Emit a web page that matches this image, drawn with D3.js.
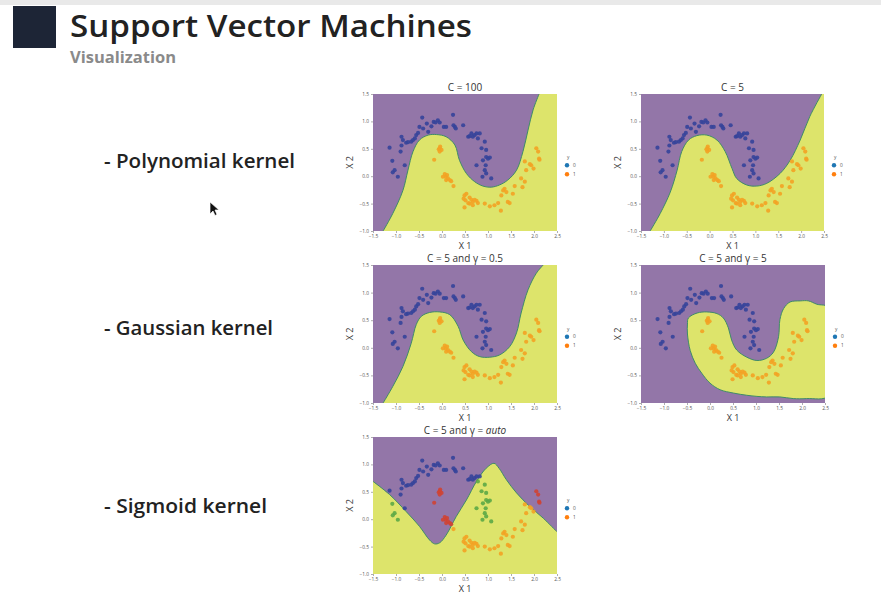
<!DOCTYPE html>
<html>
<head>
<meta charset="utf-8">
<script src="https://cdn.jsdelivr.net/npm/d3@7"></script>
<style>
  body { margin: 0; background: #fff; }
  text { font-family: "Open Sans", "Noto Sans", sans-serif; }
</style>
</head>
<body>
<div id="chart"></div>
<script>
// tick values shared by every panel
const xTicks = [-1.5, -1.0, -0.5, 0.0, 0.5, 1.0, 1.5, 2.0, 2.5];
const yTicks = [-1.0, -0.5, 0.0, 0.5, 1.0, 1.5];

// moons data, class 0 (blue)
const blueX = [-1.14, -1.08, -1.03, -1.07, -0.96, -0.88, -0.90, -0.85, -0.88, -0.81, -0.78, -0.74, -0.67, -0.63,
  -0.59, -0.56, -0.52, -0.49, -0.43, -0.41, -0.33, -0.30, -0.23, -0.18, -0.14, -0.09, -0.05, 0.04, 0.09, 0.24,
  0.25, 0.28, 0.30, 0.46, 0.57, 0.60, 0.64, 0.67, 0.71, 0.75, 0.78, 0.82, 0.86, 0.93, 0.96, 0.96, 0.95, 1.00,
  1.04, 0.89, 0.93, 0.96, 0.88, 1.07, 0.75];
const blueY = [0.52, 0.28, 0.11, 0.07, -0.01, 0.56, 0.45, 0.66, 0.72, 0.20, 0.61, 0.62, 0.63, 0.66,
  0.69, 0.75, 0.79, 0.90, 1.07, 0.87, 0.96, 0.81, 0.91, 0.99, 0.98, 1.02, 0.98, 0.90, 0.90, 1.12,
  0.93, 0.90, 0.87, 0.93, 0.72, 0.73, 0.78, 0.72, 0.75, 0.78, 0.69, 0.78, 0.51, 0.63, 0.48, 0.35, 0.20, 0.32,
  0.34, 0.29, 0.11, 0.05, -0.01, -0.04, 0.20];

// moons data, class 1 (orange)
const orangeX = [-0.05, -0.01, -0.05, -0.04, -0.07, -0.17, 0.06, 0.08, 0.11, 0.13, 0.09, 0.02, 0.17, 0.20,
  0.25, 0.49, 0.53, 0.47, 0.51, 0.60, 0.64, 0.67, 0.71, 0.75, 0.60, 0.57, 0.49, 0.67, 0.78, 0.93, 1.04,
  1.14, 1.28, 1.22, 1.33, 1.36, 1.29, 1.40, 1.43, 1.47, 1.54, 1.58, 1.72, 1.75, 1.80, 1.83, 1.91, 1.94,
  1.99, 2.05, 2.09, 2.11, 2.12, 1.80];
const orangeY = [0.51, 0.48, 0.45, 0.54, 0.49, 0.30, 0.04, -0.01, 0.02, -0.04, -0.07, -0.01, -0.07, -0.09,
  -0.18, -0.35, -0.32, -0.41, -0.44, -0.39, -0.43, -0.47, -0.43, -0.45, -0.50, -0.49, -0.57, -0.53, -0.49, -0.50, -0.55,
  -0.53, -0.63, -0.49, -0.26, -0.23, -0.35, -0.29, -0.47, -0.49, -0.32, -0.18, -0.04, -0.20, -0.10, 0.11, 0.22, 0.20,
  0.14, 0.51, 0.45, 0.32, 0.30, 0.27];

// decision boundaries (x1, x2)
const polyC100 = [[-1.28, -1.0], [-1.07, -0.68], [-0.85, -0.26], [-0.74, 0.11], [-0.63, 0.45], [-0.49, 0.66],
  [-0.30, 0.75], [-0.12, 0.76], [0.09, 0.72], [0.28, 0.57], [0.38, 0.29], [0.53, 0.05], [0.71, -0.10],
  [0.89, -0.18], [1.07, -0.20], [1.25, -0.16], [1.43, -0.07], [1.62, 0.11], [1.76, 0.45], [1.87, 0.84],
  [1.98, 1.21], [2.11, 1.5]];
const polyC5 = [[-1.30, -1.0], [-1.08, -0.68], [-0.86, -0.29], [-0.71, 0.11], [-0.61, 0.45], [-0.46, 0.66],
  [-0.28, 0.74], [-0.06, 0.75], [0.16, 0.66], [0.34, 0.45], [0.49, 0.14], [0.59, -0.04], [0.81, -0.16],
  [1.03, -0.18], [1.25, -0.13], [1.54, 0.05], [1.76, 0.29], [1.98, 0.66], [2.19, 1.09], [2.45, 1.5]];
const gaussG05 = [[-1.28, -1.0], [-1.07, -0.70], [-0.85, -0.34], [-0.67, 0.08], [-0.56, 0.42], [-0.45, 0.57],
  [-0.27, 0.64], [-0.05, 0.65], [0.17, 0.60], [0.35, 0.39], [0.46, 0.14], [0.64, -0.07], [0.82, -0.16],
  [1.04, -0.17], [1.25, -0.13], [1.47, 0.02], [1.62, 0.27], [1.72, 0.63], [1.87, 1.05], [2.05, 1.35], [2.20, 1.5]];
const gaussG5 = [[-0.47, 0.54], [-0.28, 0.63], [-0.07, 0.65], [0.15, 0.62], [0.29, 0.54], [0.40, 0.36],
  [0.47, 0.14], [0.58, -0.04], [0.80, -0.17], [1.02, -0.23], [1.23, -0.19], [1.38, -0.08], [1.49, 0.20],
  [1.52, 0.51], [1.60, 0.71], [1.74, 0.83], [1.96, 0.85], [2.14, 0.85], [2.32, 0.79], [2.6, 0.72],
  [2.6, -0.86], [2.1, -0.92], [1.81, -0.92], [1.52, -0.89], [1.23, -0.89], [1.02, -0.88], [0.80, -0.86],
  [0.51, -0.82], [0.22, -0.76], [0.0, -0.64], [-0.18, -0.46], [-0.32, -0.28], [-0.43, -0.05], [-0.49, 0.25],
  [-0.49, 0.43]];
const sigmoidAuto = [[-1.5, 0.69], [-1.14, 0.45], [-0.78, 0.14], [-0.49, -0.13], [-0.27, -0.38], [-0.16, -0.45],
  [-0.05, -0.43], [0.09, -0.29], [0.31, 0.05], [0.53, 0.35], [0.75, 0.69], [0.96, 0.93], [1.13, 1.02],
  [1.24, 0.93], [1.40, 0.72], [1.62, 0.48], [1.91, 0.23], [2.2, 0.02], [2.5, -0.23]];

const width = 881, height = 594;
const colPurple = "#9376a8", colYellow = "#dde46b", colEdge = "#3f8c68";
const colBlue = "#35449a", colOrange = "#f3a223", colRed = "#cf4434", colGreen = "#5ca846";

const svg = d3.select("#chart").append("svg")
  .attr("width", width)
  .attr("height", height);

// slide header
svg.append("rect").attr("x", 0).attr("y", 0).attr("width", width).attr("height", 5).attr("fill", "#e9e9e9");
svg.append("rect").attr("x", 13).attr("y", 6).attr("width", 43).attr("height", 42).attr("fill", "#1d2536");
svg.append("text").attr("x", 70).attr("y", 37)
  .attr("font-size", 31).attr("font-weight", 600).attr("fill", "#222")
  .attr("textLength", 402).attr("lengthAdjust", "spacingAndGlyphs")
  .text("Support Vector Machines");
svg.append("text").attr("x", 70).attr("y", 63)
  .attr("font-size", 16).attr("font-weight", 700).attr("fill", "#8a8a8a")
  .attr("textLength", 106).attr("lengthAdjust", "spacingAndGlyphs")
  .text("Visualization");

const kernelLabels = [
  { text: "- Polynomial kernel", y: 168, w: 191 },
  { text: "- Gaussian kernel", y: 335, w: 169 },
  { text: "- Sigmoid kernel", y: 513, w: 163 },
];
kernelLabels.forEach(k => {
  svg.append("text").attr("x", 104).attr("y", k.y)
    .attr("font-size", 20).attr("font-weight", 600).attr("fill", "#222")
    .attr("textLength", k.w).attr("lengthAdjust", "spacingAndGlyphs")
    .text(k.text);
});

// mouse pointer left on the slide
svg.append("path")
  .attr("d", "M210,202 l0,12 l3,-3 l2,4.5 l2,-1 l-2,-4.5 l4,0 Z")
  .attr("fill", "#111").attr("stroke", "#fff").attr("stroke-width", 0.7);

const panels = [
  { title: "C = 100", left: 373, top: 94, w: 184, h: 137, boundary: polyC100, corners: [[2.5, 1.5], [2.5, -1.0]] },
  { title: "C = 5", left: 641, top: 94, w: 183, h: 137, boundary: polyC5, corners: [[2.5, 1.5], [2.5, -1.0]] },
  { title: "C = 5 and γ = 0.5", left: 373, top: 265, w: 184, h: 138, boundary: gaussG05, corners: [[2.5, 1.5], [2.5, -1.0]] },
  { title: "C = 5 and γ = 5", left: 641, top: 265, w: 184, h: 138, boundary: gaussG5, closed: true },
  { title: "C = 5 and γ = ", italic: "auto", left: 373, top: 437, w: 184, h: 137, boundary: sigmoidAuto,
    corners: [[2.5, -1.0], [-1.5, -1.0]], sigmoid: true },
];

// x2 of an open boundary at a given x1 (straight pieces between the read points)
function boundaryAt(b, xv) {
  for (let i = 1; i < b.length; i++) {
    if (xv <= b[i][0]) {
      const t = (xv - b[i - 1][0]) / (b[i][0] - b[i - 1][0]);
      return b[i - 1][1] + t * (b[i][1] - b[i - 1][1]);
    }
  }
  return b[b.length - 1][1];
}

panels.forEach((p, pi) => {
  const x = d3.scaleLinear().domain([-1.5, 2.5]).range([p.left, p.left + p.w]);
  const y = d3.scaleLinear().domain([-1.0, 1.5]).range([p.top + p.h, p.top]);
  const g = svg.append("g");

  g.append("clipPath").attr("id", "clip" + pi)
    .append("rect").attr("x", p.left).attr("y", p.top).attr("width", p.w).attr("height", p.h);

  const area = g.append("g").attr("clip-path", `url(#clip${pi})`);
  area.append("rect").attr("x", p.left).attr("y", p.top).attr("width", p.w).attr("height", p.h)
    .attr("fill", colPurple);

  if (p.closed) {
    const line = d3.line().x(d => x(d[0])).y(d => y(d[1])).curve(d3.curveCatmullRomClosed);
    area.append("path").attr("d", line(p.boundary))
      .attr("fill", colYellow).attr("stroke", colEdge).attr("stroke-width", 1);
  } else {
    const line = d3.line().x(d => x(d[0])).y(d => y(d[1])).curve(d3.curveCatmullRom);
    const corners = p.corners.map(c => `L${x(c[0])},${y(c[1])}`).join("");
    area.append("path").attr("d", line(p.boundary) + corners + "Z").attr("fill", colYellow);
    area.append("path").attr("d", line(p.boundary))
      .attr("fill", "none").attr("stroke", colEdge).attr("stroke-width", 1);
  }

  // points
  const pts = blueX.map((v, i) => ({ x: v, y: blueY[i], c: 0 }))
    .concat(orangeX.map((v, i) => ({ x: v, y: orangeY[i], c: 1 })));
  area.selectAll("circle").data(pts).join("circle")
    .attr("cx", d => x(d.x)).attr("cy", d => y(d.y)).attr("r", 2.1)
    .attr("fill", d => {
      if (p.sigmoid) {
        const above = d.y > boundaryAt(p.boundary, d.x);
        if (d.c === 0) return above ? colBlue : colGreen;
        return above ? colRed : colOrange;
      }
      return d.c === 0 ? colBlue : colOrange;
    })
    .attr("opacity", 0.9);

  // axes
  const ax = g.append("g").attr("transform", `translate(0,${p.top + p.h})`)
    .call(d3.axisBottom(x).tickValues(xTicks).tickFormat(d3.format(".1f")).tickSize(2).tickPadding(2));
  const ay = g.append("g").attr("transform", `translate(${p.left},0)`)
    .call(d3.axisLeft(y).tickValues(yTicks).tickFormat(d3.format(".1f")).tickSize(2).tickPadding(2));
  [ax, ay].forEach(a => {
    a.select(".domain").remove();
    a.selectAll("line").attr("stroke", "#777").attr("stroke-width", 0.6);
    a.selectAll("text").attr("font-size", 4.8).attr("fill", "#555");
  });

  // title
  const t = g.append("text").attr("x", p.left + p.w / 2).attr("y", p.top - 3.5)
    .attr("text-anchor", "middle").attr("font-size", 10).attr("fill", "#333").text(p.title);
  if (p.italic) t.append("tspan").attr("font-style", "italic").text(p.italic);

  // axis labels
  g.append("text").attr("x", p.left + p.w / 2).attr("y", p.top + p.h + 18)
    .attr("text-anchor", "middle").attr("font-size", 9).attr("fill", "#333").text("X 1");
  g.append("text").attr("transform", `translate(${p.left - 20},${p.top + p.h / 2}) rotate(-90)`)
    .attr("text-anchor", "middle").attr("font-size", 9).attr("fill", "#333").text("X 2");

  // legend
  const lx = p.left + p.w + 10, ly = p.top + p.h * 0.52;
  g.append("text").attr("x", lx).attr("y", ly - 6).attr("font-size", 4.8).attr("fill", "#555").text("y");
  [["#1f77b4", "0"], ["#ff7f0e", "1"]].forEach((l, i) => {
    g.append("circle").attr("cx", lx).attr("cy", ly + i * 9).attr("r", 2.2).attr("fill", l[0]);
    g.append("text").attr("x", lx + 6).attr("y", ly + i * 9 + 1.7).attr("font-size", 4.8)
      .attr("fill", "#555").text(l[1]);
  });
});
</script>
</body>
</html>
